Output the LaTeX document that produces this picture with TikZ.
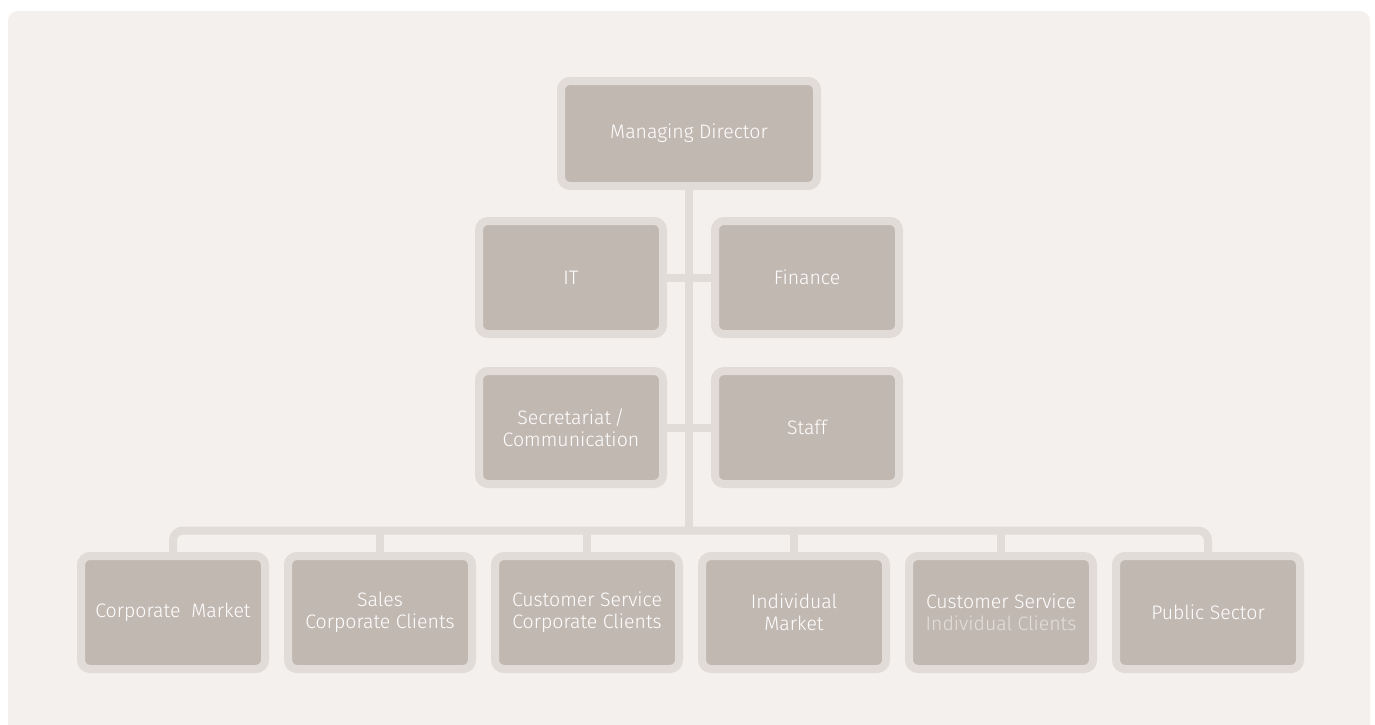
\documentclass[tikz,border=0pt]{standalone}
\usepackage{fontspec}
\setmainfont{Fira Sans}[UprightFont=* Light]
\usepackage{xcolor}
\usepackage{tikz}
\usetikzlibrary{calc}

\definecolor{panelbg}{HTML}{F4F0ED}
\definecolor{boxline}{HTML}{E1DCD8}
\definecolor{boxfill}{HTML}{C2B8B2}
\definecolor{paletext}{HTML}{E4DFDB}

\tikzset{
    unit/.style={draw=boxline,line width=8pt,fill=boxfill,rounded corners=9pt,
        minimum width=184pt,minimum height=113pt,inner sep=0pt,outer sep=0pt,
        text=white,align=center,font=\fontsize{19.5}{22}\selectfont},
    link/.style={draw=boxline,line width=8pt},
}

\begin{document}
\begin{tikzpicture}[x=1pt,y=-1pt]
    \useasboundingbox (0,0) rectangle (1375,724);
    \fill[panelbg,rounded corners=10pt] (8,11) rectangle (1370,740);
    %\draw[help lines] (0,0) grid[step=100] (1375,724);

    \node[unit,minimum width=256pt,minimum height=105pt] (md) at (689,133.5) {Managing Director};

    \node[unit] (it)  at (571,277.5) {IT};
    \node[unit] (fin) at (807,277.5) {Finance};
    \node[unit] (sec) at (571,427.5) {Secretariat\,/\\Communication};
    \node[unit] (stf) at (807,427.5) {Staff};

    \node[unit] (cm)  at (173,612.5)  {Corporate\ \ Market};
    \node[unit] (scc) at (380,612.5)  {Sales\\Corporate Clients};
    \node[unit] (csc) at (587,612.5)  {Customer Service\\Corporate Clients};
    \node[unit] (im)  at (794,612.5)  {Individual\\Market};
    \node[unit] (csi) at (1001,612.5) {Customer Service\\\textcolor{paletext}{Individual Clients}};
    \node[unit] (ps)  at (1208,612.5) {Public Sector};

    \coordinate (bus) at (689,530.5);

    \draw[link] (md.south) -- (bus);
    \draw[link] (it.east) -- (fin.west);
    \draw[link] (sec.east) -- (stf.west);
    \draw[link,rounded corners=10pt] (cm.north) |- (bus) -| (ps.north);
    \foreach \n in {scc,csc,im,csi}
        \draw[link] (\n.north) -- (\n.north |- bus);
\end{tikzpicture}
\end{document}
